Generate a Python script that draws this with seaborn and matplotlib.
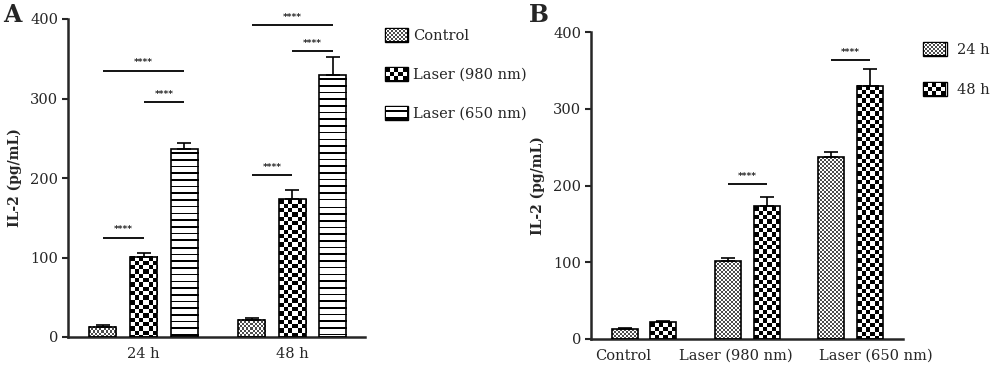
import numpy as np
import pandas as pd
import seaborn as sns
import matplotlib
matplotlib.use("Agg")
import matplotlib.pyplot as plt
from matplotlib.patches import Patch
from matplotlib.transforms import ScaledTranslation

# ---------------- data ----------------
times = ["24 h", "48 h"]
treatments = ["Control", "Laser (980 nm)", "Laser (650 nm)"]
mean_24h = [13, 101, 237]
mean_48h = [22, 173, 330]
err_24h = [1.5, 5, 7]
err_48h = [2, 12, 22]

# significance brackets panel A: (time, treatment a, treatment b, height)
sig_A_time = ["24 h", "24 h", "24 h", "48 h", "48 h", "48 h"]
sig_A_from = ["Control", "Laser (980 nm)", "Control", "Control", "Laser (980 nm)", "Control"]
sig_A_to = ["Laser (980 nm)", "Laser (650 nm)", "Laser (650 nm)", "Laser (980 nm)", "Laser (650 nm)", "Laser (650 nm)"]
sig_A_y = [125, 295, 335, 204, 360, 392]
# panel B: (treatment, height) comparing 24 h vs 48 h
sig_B_treat = ["Laser (980 nm)", "Laser (650 nm)"]
sig_B_y = [202, 363]
sig_label = "****"

df = pd.DataFrame({
    "time": np.repeat(times, len(treatments)),
    "treatment": treatments * len(times),
    "value": mean_24h + mean_48h,
    "err": err_24h + err_48h,
})

# ---------------- style ----------------
sns.set_style("ticks")
plt.rcParams["font.family"] = ["DejaVu Serif"]
plt.rcParams["axes.linewidth"] = 1.8

W, H = 1000, 379
fig = plt.figure(figsize=(W / 100, H / 100), dpi=100)
axA = fig.add_axes([68 / W, 1 - 337 / H, (365 - 68) / W, (337 - 19) / H])
axB = fig.add_axes([591 / W, 1 - 339 / H, (903 - 591) / W, (339 - 32) / H])


def pattern(kind, h, w, border=False):
    yy, xx = np.mgrid[0:h, 0:w].astype(float)
    if kind == "fine":
        c = 2.0
        arr = ((np.floor(xx / c) + np.floor(yy / c)) % 2).astype(float)
        arr = np.where(arr > 0, 1.0, 0.3)
    elif kind == "coarse":
        c = 4.3
        arr = ((np.floor(xx / c) + np.floor(yy / c)) % 2).astype(float)
    else:  # horizontal lines
        per = 6.7
        arr = np.where(((yy + 3) % per) < 1.6, 0.0, 1.0)
    if border:
        arr[0, :] = 0
        arr[-1, :] = 0
        arr[:, 0] = 0
        arr[:, -1] = 0
    return arr


def style_axis(ax, ylabel):
    ax.set_ylim(0, 400)
    ax.set_yticks([0, 100, 200, 300, 400])
    ax.tick_params(axis="y", length=4, width=1.5, labelsize=10.5, pad=3)
    ax.tick_params(axis="x", length=0, labelsize=10.5, pad=7)
    ax.set_xlabel("")
    ax.set_ylabel(ylabel, fontsize=10, fontweight="bold", labelpad=6)
    sns.despine(ax=ax)
    ax.set_facecolor("none")


def fill_bars(ax, kinds_per_container):
    fig.canvas.draw()
    xl, yl = ax.get_xlim(), ax.get_ylim()
    for cont, kind in zip(ax.containers, kinds_per_container):
        for bar in cont:
            bb = bar.get_window_extent()
            w = max(int(round(bb.width)), 1)
            h = max(int(round(bb.height)), 1)
            arr = pattern(kind, h, w)
            x0 = bar.get_x()
            ax.imshow(arr, extent=(x0, x0 + bar.get_width(), bar.get_y(), bar.get_y() + bar.get_height()),
                      aspect="auto", interpolation="none", cmap="gray", vmin=0, vmax=1, zorder=1.5)
    ax.set_xlim(xl)
    ax.set_ylim(yl)


def bar_center(ax, hue_idx, group_idx):
    for bar in ax.containers[hue_idx]:
        c = bar.get_x() + bar.get_width() / 2
        if int(round(c)) == group_idx:
            return c, bar.get_height()
    return None


def add_errorbars(ax, n_groups, n_hues, err_of):
    for hi in range(n_hues):
        for gi in range(n_groups):
            c, top = bar_center(ax, hi, gi)
            e = err_of(gi, hi)
            ax.errorbar([c], [top], yerr=[[0], [e]], fmt="none", ecolor="black",
                        elinewidth=1.2, capsize=5, capthick=1.2, zorder=4)


def add_sig(ax, x1, x2, y):
    ax.plot([x1, x2], [y, y], color="black", lw=1.3, zorder=4, solid_capstyle="butt")
    ax.text((x1 + x2) / 2, y + 4, sig_label, ha="center", va="bottom", fontsize=6.5,
            fontweight="bold", family="DejaVu Sans")


def legend_with_patterns(ax, labels, kinds, anchor, spacing, textpad):
    handles = [Patch(facecolor="white", edgecolor="black", linewidth=1) for _ in labels]
    leg = ax.legend(handles, labels, loc="upper left", bbox_to_anchor=anchor, frameon=False,
                    fontsize=10.5, handlelength=1.6, handleheight=1.1, handletextpad=textpad,
                    labelspacing=spacing, borderaxespad=0)
    fig.canvas.draw()
    for hnd, kind in zip(leg.legend_handles, kinds):
        bb = hnd.get_window_extent()
        w, h = int(round(bb.width)), int(round(bb.height))
        arr = pattern(kind, h, w, border=True)
        fig.figimage(arr, xo=int(round(bb.x0)), yo=int(round(bb.y0)), cmap="gray",
                     vmin=0, vmax=1, origin="upper", zorder=5)


# ---------------- panel A ----------------
sns.barplot(data=df, x="time", y="value", hue="treatment", order=times, hue_order=treatments,
            palette=["white"] * 3, edgecolor="black", linewidth=1.2, width=0.82, gap=0.33,
            errorbar=None, legend=False, ax=axA, zorder=3)
for p in axA.patches:
    p.set_facecolor("none")
axA.set_xlim(-0.508, 1.49)
style_axis(axA, "IL-2 (pg/mL)")
fill_bars(axA, ["fine", "coarse", "lines"])
add_errorbars(axA, len(times), len(treatments), lambda g, h: [err_24h, err_48h][g][h])
for t, a, b, y in zip(sig_A_time, sig_A_from, sig_A_to, sig_A_y):
    gi = times.index(t)
    x1, _ = bar_center(axA, treatments.index(a), gi)
    x2, _ = bar_center(axA, treatments.index(b), gi)
    add_sig(axA, x1, x2, y)

# ---------------- panel B ----------------
sns.barplot(data=df, x="treatment", y="value", hue="time", order=treatments, hue_order=times,
            palette=["white"] * 2, edgecolor="black", linewidth=1.2, width=0.75, gap=0.33,
            errorbar=None, legend=False, ax=axB, zorder=3)
for p in axB.patches:
    p.set_facecolor("none")
axB.set_xlim(-0.515, 2.51)
style_axis(axB, "IL-2 (pg/mL)")
fill_bars(axB, ["fine", "coarse"])
add_errorbars(axB, len(treatments), len(times), lambda g, h: [err_24h, err_48h][h][g])
for t, y in zip(sig_B_treat, sig_B_y):
    gi = treatments.index(t)
    x1, _ = bar_center(axB, 0, gi)
    x2, _ = bar_center(axB, 1, gi)
    add_sig(axB, x1, x2, y)

# panel letters
fig.text(3 / W, 1 - 3 / H, "A", fontsize=17, fontweight="bold", va="top", ha="left")
fig.text(529 / W, 1 - 3 / H, "B", fontsize=17, fontweight="bold", va="top", ha="left")

# legends
legend_with_patterns(axA, treatments, ["fine", "coarse", "lines"], (1.047, 0.99), 1.65, 0.35)
legend_with_patterns(axB, times, ["fine", "coarse"], (1.046, 0.985), 1.7, 0.75)

# tick label nudges in panel B (pixel offsets, as in the original layout)
label_shift_px = [-21, -11, 25]
fig.canvas.draw()
for lab, dx in zip(axB.get_xticklabels(), label_shift_px):
    lab.set_transform(lab.get_transform() + ScaledTranslation(dx / 100, 0, fig.dpi_scale_trans))

fig.savefig("out.png", dpi=100)
